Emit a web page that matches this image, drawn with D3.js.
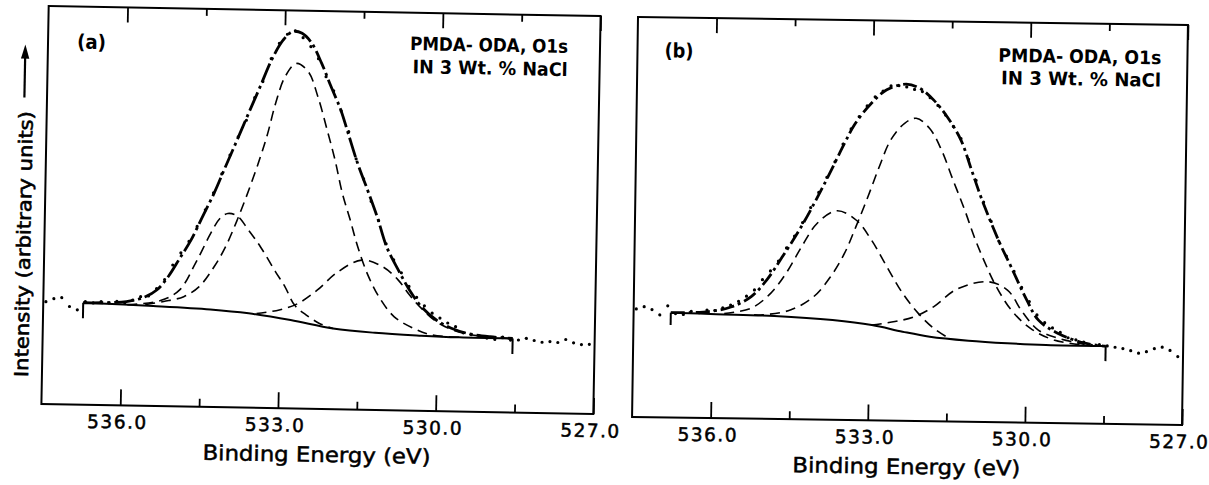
<!DOCTYPE html>
<html>
<head>
<meta charset="utf-8">
<script src="https://cdn.jsdelivr.net/npm/d3@7"></script>
<style>
  body { margin: 0; background: #fff; }
  text { font-family: "DejaVu Sans", sans-serif; fill: #000; }
</style>
</head>
<body>
<svg id="chart" width="1209" height="485"></svg>
<script>
// Binding energy axis (eV), reversed like the original
var energyRange = [537.5, 527.0];
var majorTicks = [536.0, 533.0, 530.0, 527.0];
var minorTicks = [534.5, 531.5, 528.5];

// ---- panel (a) : [energy eV, intensity arb.] ----
var dataA = [[537.45,25.7],[537.30,26.5],[537.15,26.8],[537.00,24.6],[536.85,23.8],[536.70,25.9],
  [536.55,25.6],[536.40,26.0],[536.25,25.7],[536.10,26.1],[535.95,25.8],[535.80,26.5],[535.65,27.4],
  [535.50,27.6],[535.35,29.5],[535.20,31.8],[535.05,35.5],[534.90,38.6],[534.75,41.5],[534.60,45.3],
  [534.45,49.5],[534.30,53.8],[534.15,58.6],[534.00,63.4],[533.85,68.0],[533.70,72.2],[533.55,77.9],
  [533.40,82.0],[533.25,87.8],[533.10,91.7],[532.95,94.0],[532.80,94.9],[532.65,93.2],[532.50,91.0],
  [532.35,88.0],[532.20,83.5],[532.05,80.0],[531.90,75.0],[531.75,69.8],[531.60,63.0],[531.45,58.0],
  [531.30,52.4],[531.15,47.6],[531.00,41.8],[530.85,37.8],[530.70,34.6],[530.55,31.2],[530.40,28.5],
  [530.25,26.4],[530.10,24.6],[529.95,23.4],[529.80,22.2],[529.65,21.3],[529.50,19.8],[529.35,19.4],
  [529.20,19.0],[529.05,18.6],[528.90,18.3],[528.75,18.9],[528.60,18.2],[528.45,18.25],[528.30,18.7],
  [528.15,18.2],[528.00,17.8],[527.85,18.0],[527.70,17.8],[527.55,18.6],[527.40,17.8],[527.25,17.4],
  [527.10,17.5]];
var envelopeA = [[536.74,25.6],[535.92,26.1],[535.56,27.4],[535.34,29.2],[535.13,32.6],[534.92,37.2],
  [534.71,41.9],[534.50,47.8],[534.29,53.7],[534.08,60.5],[533.87,67.2],[533.66,74.0],[533.45,80.7],
  [533.24,87.5],[533.03,92.5],[532.85,94.7],[532.67,94.3],[532.48,91.8],[532.29,86.9],[532.10,81.0],
  [531.91,75.3],[531.76,69.4],[531.57,61.9],[531.37,55.2],[531.18,48.6],[530.99,41.1],[530.76,35.3],
  [530.54,30.3],[530.31,26.2],[530.02,22.9],[529.73,20.9],[529.43,19.7],[528.99,18.95],[528.56,18.6]];
var peakMainA = [[535.56,25.4],[535.21,26.3],[534.83,27.6],[534.54,30.2],[534.26,35.3],[534.05,40.4],
  [533.84,47.1],[533.63,54.7],[533.42,63.1],[533.29,69.0],[533.15,76.6],[532.98,83.3],[532.77,86.7],
  [532.54,84.7],[532.35,78.5],[532.16,70.1],[532.00,62.6],[531.85,54.3],[531.69,47.6],[531.54,41.0],
  [531.35,34.3],[531.12,28.5],[530.82,23.5],[530.45,20.7],[530.09,19.1],[529.58,18.65]];
var peakHighA = [[535.90,25.3],[535.27,26.5],[534.91,29.3],[534.62,36.0],[534.34,43.6],[534.17,47.4],
  [534.02,48.7],[533.84,48.1],[533.62,44.6],[533.39,40.5],[533.09,34.2],[532.91,30.6],[532.72,26.0],
  [532.50,23.6],[532.24,21.5],[531.98,20.3]];
var peakLowA = [[533.44,23.7],[533.01,24.7],[532.65,26.45],[532.29,29.9],[531.93,34.3],[531.46,37.6],
  [531.06,36.05],[530.76,32.8],[530.54,29.1],[530.31,25.8],[530.02,22.5],[529.73,20.6],[529.43,19.5],
  [529.00,18.9],[528.56,18.6]];
var baselineA = [[536.74,25.6],[535.41,25.1],[534.32,24.5],[533.59,23.7],[532.79,22.2],[531.98,20.3],
  [531.18,19.4],[530.30,18.9],[529.58,18.65],[528.56,18.6]];
var stepsA = [[[536.74,21.7],[536.74,25.6]], [[528.56,18.6],[528.56,14.7]]];

// ---- panel (b) ----
var dataB = [[537.45,27.0],[537.30,27.6],[537.15,26.9],[537.00,25.6],[536.85,27.9],[536.70,26.0],
  [536.55,25.8],[536.40,26.6],[536.25,26.3],[536.10,27.0],[535.95,26.9],[535.80,27.6],[535.65,28.3],
  [535.50,29.3],[535.35,30.6],[535.20,32.2],[535.05,34.8],[534.90,37.0],[534.75,39.5],[534.60,42.8],
  [534.45,45.8],[534.30,49.2],[534.15,53.0],[534.00,56.8],[533.85,60.6],[533.70,64.5],[533.55,69.0],
  [533.40,72.8],[533.25,75.9],[533.10,78.6],[532.95,80.9],[532.80,82.4],[532.65,83.7],[532.50,83.8],
  [532.35,83.5],[532.20,82.9],[532.05,82.4],[531.90,80.9],[531.75,79.0],[531.60,76.6],[531.45,73.8],
  [531.30,70.8],[531.15,65.6],[531.00,60.4],[530.85,55.0],[530.70,50.2],[530.55,45.3],[530.40,41.6],
  [530.25,37.8],[530.10,33.8],[529.95,30.3],[529.80,27.0],[529.65,25.1],[529.50,23.8],[529.35,22.7],
  [529.20,21.4],[529.05,20.9],[528.90,20.4],[528.75,19.6],[528.60,19.8],[528.45,19.5],[528.30,19.2],
  [528.15,18.9],[528.00,18.4],[527.85,17.8],[527.70,18.2],[527.55,19.0],[527.40,19.4],[527.25,18.6],
  [527.10,17.1]];
var envelopeB = [[536.79,26.2],[536.07,26.6],[535.63,27.9],[535.26,30.5],[534.97,34.7],[534.68,40.5],
  [534.31,48.5],[533.92,58.3],[533.52,69.2],[533.34,73.8],[533.02,79.3],[532.73,82.7],[532.36,84.2],
  [532.10,83.2],[531.83,80.3],[531.57,76.2],[531.30,70.4],[531.09,63.0],[530.88,55.5],[530.53,44.8],
  [530.31,39.0],[530.00,30.7],[529.77,25.7],[529.40,22.5],[528.88,20.1],[528.48,19.45]];
var peakMainB = [[535.20,25.95],[535.03,26.0],[534.51,27.3],[534.07,30.7],[533.75,35.8],[533.49,41.7],
  [533.28,48.4],[533.06,55.9],[532.85,63.5],[532.64,70.2],[532.38,74.4],[532.16,75.7],[531.90,73.2],
  [531.67,67.9],[531.44,60.4],[531.21,53.0],[531.02,46.3],[530.83,40.5],[530.60,34.3],[530.29,28.1],
  [529.92,23.6],[529.47,20.8],[528.88,19.6]];
var peakHighB = [[535.77,26.2],[535.26,27.6],[534.89,31.4],[534.60,36.5],[534.31,43.2],[534.02,49.1],
  [533.65,52.3],[533.28,50.05],[532.98,45.1],[532.68,38.5],[532.37,31.9],[532.07,27.0],[531.77,23.3],
  [531.47,20.8]];
var peakLowB = [[532.95,23.85],[532.51,24.8],[532.14,26.1],[531.77,28.7],[531.34,33.1],[530.74,35.1],
  [530.37,33.1],[530.07,27.5],[529.77,23.2],[529.40,21.3],[528.88,19.8]];
var baselineB = [[536.79,26.2],[535.92,26.0],[534.81,25.75],[533.70,24.95],[532.95,23.85],[532.36,22.3],
  [531.84,21.15],[531.10,20.3],[530.36,19.8],[529.62,19.5],[528.48,19.45]];
var stepsB = [[[536.79,23.1],[536.79,26.2]], [[528.48,19.45],[528.48,15.7]]];

var svg = d3.select("#chart");

// each scanned panel is slightly tilted, so the group gets a small rotation
var panels = [
  { left: 45, top: 11, w: 552, h: 398, angle: 1.05, cx: 321, cy: 210,
    data: dataA, envelope: envelopeA, peaks: [peakMainA, peakHighA, peakLowA],
    baseline: baselineA, steps: stepsA, tag: "(a)", tagX: 29, tagY: 42,
    noteEnd: 520, noteY: [37.5, 60.5], noteLen: [158, 155], dash: "20,4,3,4", yLabel: true },
  { left: 635, top: 21, w: 550, h: 400, angle: 0.85, cx: 910, cy: 221,
    data: dataB, envelope: envelopeB, peaks: [peakMainB, peakHighB, peakLowB],
    baseline: baselineB, steps: stepsB, tag: "(b)", tagX: 27, tagY: 40,
    noteEnd: 524, noteY: [39.5, 62], noteLen: [163, 160], dash: "14,4,3,4", yLabel: false }
];

panels.forEach(function(p) {
  var g = svg.append("g")
    .attr("transform", "rotate(" + p.angle + "," + p.cx + "," + p.cy + ") translate(" + p.left + "," + p.top + ")");

  var x = d3.scaleLinear().domain(energyRange).range([0, p.w]);
  var y = d3.scaleLinear().domain([0, 100]).range([p.h, 0]);

  var smooth = d3.line().x(function(d) { return x(d[0]); }).y(function(d) { return y(d[1]); })
    .curve(d3.curveCatmullRom.alpha(0.5));
  var straight = d3.line().x(function(d) { return x(d[0]); }).y(function(d) { return y(d[1]); });

  // frame
  g.append("rect").attr("width", p.w).attr("height", p.h)
    .attr("fill", "none").attr("stroke", "#000").attr("stroke-width", 2);

  // bottom axis, ticks pointing inward
  var bottomMajor = g.append("g").attr("transform", "translate(0," + p.h + ")")
    .call(d3.axisBottom(x).tickValues(majorTicks).tickSize(-16).tickPadding(10).tickFormat(d3.format(".1f")));
  bottomMajor.select(".domain").remove();
  bottomMajor.selectAll("line").attr("stroke-width", 1.8);
  bottomMajor.selectAll("text")
    .attr("font-size", 18.5).attr("font-family", "DejaVu Sans, sans-serif")
    .attr("letter-spacing", 1.5).attr("dx", -3)
    .attr("stroke", "#000").attr("stroke-width", 0.5);

  var bottomMinor = g.append("g").attr("transform", "translate(0," + p.h + ")")
    .call(d3.axisBottom(x).tickValues(minorTicks).tickSize(-8).tickFormat(""));
  bottomMinor.select(".domain").remove();
  bottomMinor.selectAll("line").attr("stroke-width", 1.8);

  var topMajor = g.append("g")
    .call(d3.axisTop(x).tickValues(majorTicks).tickSize(-15).tickFormat(""));
  topMajor.select(".domain").remove();
  topMajor.selectAll("line").attr("stroke-width", 1.8);

  var topMinor = g.append("g")
    .call(d3.axisTop(x).tickValues(minorTicks).tickSize(-7).tickFormat(""));
  topMinor.select(".domain").remove();
  topMinor.selectAll("line").attr("stroke-width", 1.8);

  // axis title
  g.append("text").attr("x", p.w / 2).attr("y", p.h + 53)
    .attr("text-anchor", "middle").attr("font-size", 21)
    .attr("stroke", "#000").attr("stroke-width", 0.5)
    .attr("textLength", 228).attr("lengthAdjust", "spacingAndGlyphs")
    .text("Binding Energy (eV)");

  // background (solid) with the step markers at both ends
  g.append("path").attr("d", smooth(p.baseline))
    .attr("fill", "none").attr("stroke", "#000").attr("stroke-width", 2);
  p.steps.forEach(function(s) {
    g.append("path").attr("d", straight(s))
      .attr("fill", "none").attr("stroke", "#000").attr("stroke-width", 2);
  });

  // fitted components (dashed)
  p.peaks.forEach(function(pk) {
    g.append("path").attr("d", smooth(pk))
      .attr("fill", "none").attr("stroke", "#000").attr("stroke-width", 1.6)
      .attr("stroke-dasharray", "10,6");
  });

  // fitted envelope (heavy long dash-dot)
  g.append("path").attr("d", smooth(p.envelope))
    .attr("fill", "none").attr("stroke", "#000").attr("stroke-width", 2.8)
    .attr("stroke-dasharray", p.dash);

  // measured points
  g.selectAll("circle.pt").data(p.data).enter().append("circle")
    .attr("class", "pt")
    .attr("cx", function(d) { return x(d[0]); })
    .attr("cy", function(d) { return y(d[1]); })
    .attr("r", 1.6).attr("fill", "#000");

  // labels
  g.append("text").attr("x", p.tagX).attr("y", p.tagY)
    .attr("font-size", 20).attr("font-weight", "bold")
    .attr("textLength", 29).attr("lengthAdjust", "spacingAndGlyphs")
    .text(p.tag);

  var notes = ["PMDA- ODA, O1s", "IN 3 Wt. % NaCl"];
  notes.forEach(function(t, i) {
    g.append("text").attr("x", p.noteEnd - p.noteLen[i]).attr("y", p.noteY[i])
      .attr("font-size", 18.5).attr("font-weight", "bold")
      .attr("textLength", p.noteLen[i]).attr("lengthAdjust", "spacingAndGlyphs")
      .text(t);
  });

  if (p.yLabel) {
    g.append("text")
      .attr("transform", "translate(-14,238.5) rotate(-90)")
      .attr("text-anchor", "middle").attr("font-size", 19)
      .attr("stroke", "#000").attr("stroke-width", 0.6)
      .attr("textLength", 266).attr("lengthAdjust", "spacingAndGlyphs")
      .text("Intensity (arbitrary units)");
    g.append("line").attr("x1", -22.6).attr("x2", -22.6).attr("y1", 92).attr("y2", 50)
      .attr("stroke", "#000").attr("stroke-width", 2.2);
    g.append("path").attr("d", "M-22.6,39 L-26.8,53 L-18.4,53 Z").attr("fill", "#000");
  }
});
</script>
</body>
</html>
